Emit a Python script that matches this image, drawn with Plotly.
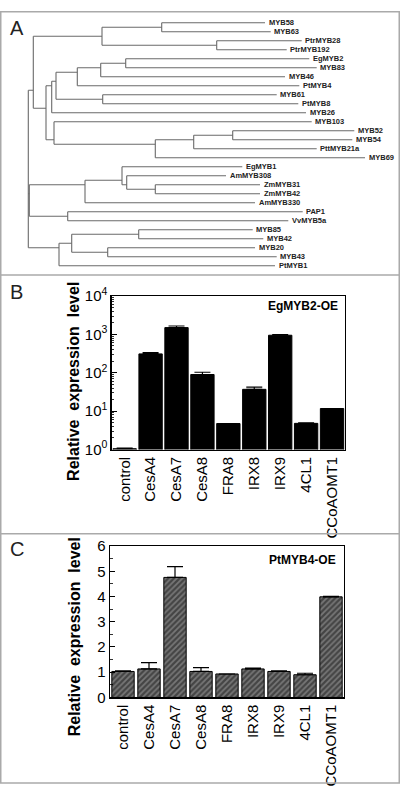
import plotly.graph_objects as go

# ---------------- Panel A: phylogenetic tree (pre-order node list) ----------------
tree_node = ["root", "A", "A1", "n5863", "MYB58", "MYB63", "nPtr", "PtrMYB28", "PtrMYB192",
             "A2", "n51", "n56", "n77", "n100", "n125", "EgMYB2", "MYB83", "MYB46", "PtMYB4",
             "n6108", "MYB61", "PtMYB8", "MYB26", "n54", "MYB103", "n155", "n193", "n232",
             "MYB52", "MYB54", "PttMYB21a", "MYB69",
             "B", "n85", "n122", "EgMYB1", "n126", "AmMYB308", "nZm", "ZmMYB31", "ZmMYB42",
             "AmMYB330", "n67", "PAP1", "VvMYB5a",
             "C", "n71", "n138", "MYB85", "MYB42", "n107", "MYB20", "MYB43", "PtMYB1"]
tree_parent = [None, "root", "A", "A1", "n5863", "n5863", "A1", "nPtr", "nPtr",
               "A", "A2", "n51", "n56", "n77", "n100", "n125", "n125", "n100", "n77",
               "n56", "n6108", "n6108", "n51", "A2", "n54", "n54", "n155", "n193",
               "n232", "n232", "n193", "n155",
               "root", "B", "n85", "n122", "n122", "n126", "n126", "nZm", "nZm",
               "n85", "B", "n67", "n67",
               "root", "C", "n71", "n138", "n138", "n71", "n107", "n107", "C"]
tree_length = [0.0, 0.0050, 0.0687, 0.0597, 0.1033, 0.1090, 0.1147, 0.0850, 0.0700,
               0.0127, 0.0057, 0.0043, 0.0213, 0.0234, 0.0250, 0.1836, 0.1910, 0.1843, 0.2220,
               0.0467, 0.1740, 0.1956, 0.2543, 0.0080, 0.2577, 0.1013, 0.0384, 0.0390,
               0.1216, 0.1196, 0.1230, 0.2097,
               0.0010, 0.0557, 0.0370, 0.1203, 0.0047, 0.0993, 0.0286, 0.1047, 0.1047,
               0.1700, 0.0384, 0.2350, 0.2206,
               0.0307, 0.0127, 0.0670, 0.1140, 0.1246, 0.0360, 0.1473, 0.1690, 0.2160]

# ---------------- Panels B and C: expression data ----------------
genes = ["control", "CesA4", "CesA7", "CesA8", "FRA8", "IRX8", "IRX9", "4CL1", "CCoAOMT1"]
egmyb2_oe = [1.05, 310, 1500, 90, 4.75, 37, 950, 4.8, 11.7]
egmyb2_err = [0.04, 25, 150, 13, 0.0, 5, 30, 0.15, 0.0]
ptmyb4_oe = [1.03, 1.13, 4.76, 1.03, 0.93, 1.13, 1.03, 0.90, 3.99]
ptmyb4_err = [0.02, 0.25, 0.43, 0.15, 0.0, 0.03, 0.02, 0.06, 0.02]
log_ticks = [1, 10, 100, 1000, 10000]
log_ticktext = ["10<sup>0</sup>", "10<sup>1</sup>", "10<sup>2</sup>", "10<sup>3</sup>", "10<sup>4</sup>"]

W, H = 400, 792
FONT = "Liberation Sans, Arial, sans-serif"


def px_x(p):
    return p / W


def px_y(p):
    return 1 - p / H


# ---- tree layout ----
children = {n: [] for n in tree_node}
for n, p in zip(tree_node, tree_parent):
    if p is not None:
        children[p].append(n)
depth = {}
for n, p, L in zip(tree_node, tree_parent, tree_length):
    depth[n] = (depth[p] if p is not None else 0.0) + L
leaves = [n for n in tree_node if not children[n]]
leaf_index = {n: i for i, n in enumerate(leaves)}


def leaf_list(n):
    if not children[n]:
        return [n]
    out = []
    for c in children[n]:
        out += leaf_list(c)
    return out


ypos = {n: sum(leaf_index[l] for l in leaf_list(n)) / len(leaf_list(n)) for n in tree_node}

xs, ys = [], []
for n, p in zip(tree_node, tree_parent):
    if p is not None:
        xs += [depth[p], depth[n], None]
        ys += [ypos[n], ypos[n], None]
    if children[n]:
        cy = [ypos[c] for c in children[n]]
        xs += [depth[n], depth[n], None]
        ys += [min(cy), max(cy), None]

fig = go.Figure()
fig.add_trace(go.Scatter(x=xs, y=ys, mode="lines", line=dict(color="#6a6a6a", width=1.1),
                         hoverinfo="skip", xaxis="x", yaxis="y", showlegend=False))

annotations = []
for l in leaves:
    annotations.append(dict(x=depth[l], y=leaf_index[l], xref="x", yref="y", text="<b>" + l + "</b>",
                            showarrow=False, xanchor="left", yanchor="middle", xshift=1.5,
                            font=dict(family=FONT, size=7.5, color="#222")))

# ---- panel B bars ----
fig.add_trace(go.Bar(x=genes, y=egmyb2_oe, width=0.9,
                     marker=dict(color="black", line=dict(color="black", width=1)),
                     error_y=dict(type="data", array=egmyb2_err, arrayminus=[0] * len(genes),
                                  symmetric=False, color="black", thickness=1.2, width=8),
                     xaxis="x2", yaxis="y2", showlegend=False))

# ---- panel C bars ----
fig.add_trace(go.Bar(x=genes, y=ptmyb4_oe, width=0.86,
                     marker=dict(color="#6a6a6a", line=dict(color="black", width=1),
                                 pattern=dict(shape="/", fgcolor="#111111", bgcolor="#777777",
                                              size=4, solidity=0.55)),
                     error_y=dict(type="data", array=ptmyb4_err, arrayminus=[0] * len(genes),
                                  symmetric=False, color="black", thickness=1.2, width=8),
                     xaxis="x3", yaxis="y3", showlegend=False))

tick_font = dict(family=FONT, size=15, color="black")
axis_common = dict(showline=True, linecolor="black", linewidth=1.3, mirror=True,
                   showgrid=False, zeroline=False)

minor_log = [m * 10 ** e for e in range(4) for m in range(2, 10)]

layout = dict(
    width=W, height=H, margin=dict(l=0, r=0, t=0, b=0),
    paper_bgcolor="white", plot_bgcolor="white", bargap=0.1,
    xaxis=dict(domain=[0, 1], range=[-0.0283, 0.3717], visible=False, fixedrange=True),
    yaxis=dict(domain=[px_y(270), 1], range=[27.98, -1.30], visible=False),
    xaxis2=dict(domain=[px_x(111.7), px_x(345)], anchor="y2", range=[-0.5, 8.5],
                ticks="", tickangle=-90, tickfont=tick_font, **axis_common),
    yaxis2=dict(domain=[px_y(449.3), px_y(292)], anchor="x2", type="log", range=[0, 4],
                tickmode="array", tickvals=log_ticks, ticktext=log_ticktext,
                ticks="inside", ticklen=5, tickwidth=1, tickcolor="black", tickfont=tick_font,
                minor=dict(tickmode="array", tickvals=minor_log, ticks="inside", ticklen=2.5,
                           tickwidth=0.8, tickcolor="black", showgrid=False),
                **axis_common),
    xaxis3=dict(domain=[px_x(110), px_x(344)], anchor="y3", range=[-0.5, 8.5],
                ticks="", tickangle=-90, tickfont=tick_font, **axis_common),
    yaxis3=dict(domain=[px_y(703.3), px_y(548.3)], anchor="x3", range=[0, 6], dtick=1,
                ticks="inside", ticklen=5, tickwidth=1, tickcolor="black", tickfont=tick_font,
                minor=dict(dtick=0.5, ticks="inside", ticklen=2.5, tickwidth=0.8,
                           tickcolor="black", showgrid=False),
                **axis_common),
)

# panel letters
for letter, yc in [("A", 17.8), ("B", 287.5), ("C", 551.0)]:
    annotations.append(dict(x=px_x(7.5), y=px_y(yc), xref="paper", yref="paper", text=letter,
                            showarrow=False, xanchor="left", yanchor="middle",
                            font=dict(family=FONT, size=20, color="#222")))

# axis titles
title_text = "Relative\u00a0 expression\u00a0 level"
for xc, yc in [(74, 380), (74, 641.7)]:
    annotations.append(dict(x=px_x(xc), y=px_y(yc), xref="paper", yref="paper", text="<b>" + title_text + "</b>",
                            showarrow=False, textangle=-90, xanchor="center", yanchor="middle",
                            font=dict(family=FONT, size=16, color="black")))

# panel tags
annotations.append(dict(x=px_x(340), y=px_y(302), xref="paper", yref="paper", text="<b>EgMYB2-OE</b>",
                        showarrow=False, xanchor="right", yanchor="middle",
                        font=dict(family=FONT, size=12, color="black")))
annotations.append(dict(x=px_x(338), y=px_y(563), xref="paper", yref="paper", text="<b>PtMYB4-OE</b>",
                        showarrow=False, xanchor="right", yanchor="middle",
                        font=dict(family=FONT, size=12, color="black")))

border = "#aaaaaa"
shapes = [
    dict(type="rect", xref="paper", yref="paper", x0=px_x(0.75), x1=px_x(399.25), y0=px_y(791), y1=px_y(0.75),
         line=dict(color=border, width=1.5)),
    dict(type="line", xref="paper", yref="paper", x0=0, x1=1, y0=px_y(270.5), y1=px_y(270.5),
         line=dict(color=border, width=1.5)),
    dict(type="line", xref="paper", yref="paper", x0=0, x1=1, y0=px_y(535.5), y1=px_y(535.5),
         line=dict(color=border, width=1.5)),
]

layout["annotations"] = annotations
layout["shapes"] = shapes
layout["font"] = dict(family=FONT)
fig.update_layout(**layout)
fig.write_html("out.html", config={"displayModeBar": False, "staticPlot": True},
               post_script="document.body.style.margin='0';document.body.style.overflow='hidden';")
